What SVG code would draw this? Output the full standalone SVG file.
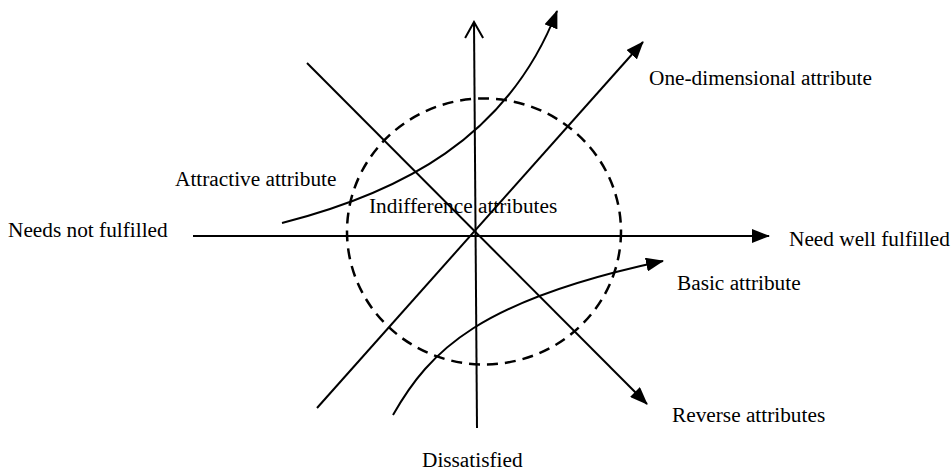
<svg xmlns="http://www.w3.org/2000/svg" width="952" height="472" viewBox="0 0 952 472">
  <defs>
    <marker id="arrow-solid" viewBox="0 0 18 14" refX="17" refY="7" markerWidth="18" markerHeight="14" markerUnits="userSpaceOnUse" orient="auto">
      <path d="M0,0 L18,7 L0,14 Z" fill="#000"/>
    </marker>
    <marker id="arrow-open" viewBox="0 0 20 22" refX="18" refY="11" markerWidth="20" markerHeight="22" markerUnits="userSpaceOnUse" orient="auto">
      <path d="M2,2 L18,11 L2,20" fill="none" stroke="#000" stroke-width="2"/>
    </marker>
  </defs>
  <style>
    .ln { fill: none; stroke: #000; stroke-width: 2; }
    .dash { fill: none; stroke: #000; stroke-width: 2.5; stroke-dasharray: 11 7; }
    .lbl { font-family: "Liberation Serif", "Times New Roman", serif; font-size: 21.3px; fill: #000; }
  </style>

  <rect width="952" height="472" fill="#fff"/>

  <!-- indifference zone -->
  <g id="indifference-zone">
    <ellipse class="dash" cx="484" cy="231.5" rx="137" ry="133"/>
  </g>

  <!-- axes, attribute lines and curves -->
  <g id="connectors">
    <line id="axis-fulfilment" class="ln" x1="193" y1="236" x2="769" y2="236" marker-end="url(#arrow-solid)"/>
    <line id="axis-satisfaction" class="ln" x1="477" y1="428" x2="474" y2="22" marker-end="url(#arrow-open)"/>
    <line id="reverse-line" class="ln" x1="307" y1="63" x2="647" y2="404" marker-end="url(#arrow-solid)"/>
    <line id="one-dimensional-line" class="ln" x1="317" y1="408" x2="643" y2="42" marker-end="url(#arrow-solid)"/>
    <path id="attractive-curve" class="ln" d="M282,223 C400,193 508,138 557,11" marker-end="url(#arrow-solid)"/>
    <path id="basic-curve" class="ln" d="M393,415 C430,350 480,300 663,261" marker-end="url(#arrow-solid)"/>
  </g>

  <g id="label-needs-not-fulfilled"><text class="lbl" x="8" y="237">Needs not fulfilled</text></g>
  <g id="label-need-well-fulfilled"><text class="lbl" x="789" y="246">Need well fulfilled</text></g>
  <g id="label-attractive"><text class="lbl" x="175" y="186">Attractive attribute</text></g>
  <g id="label-indifference"><text class="lbl" x="369" y="213">Indifference attributes</text></g>
  <g id="label-one-dimensional"><text class="lbl" x="649" y="85">One-dimensional attribute</text></g>
  <g id="label-basic"><text class="lbl" x="677" y="290">Basic attribute</text></g>
  <g id="label-reverse"><text class="lbl" x="672" y="422">Reverse attributes</text></g>
  <g id="label-dissatisfied"><text class="lbl" x="422" y="467">Dissatisfied</text></g>
</svg>
